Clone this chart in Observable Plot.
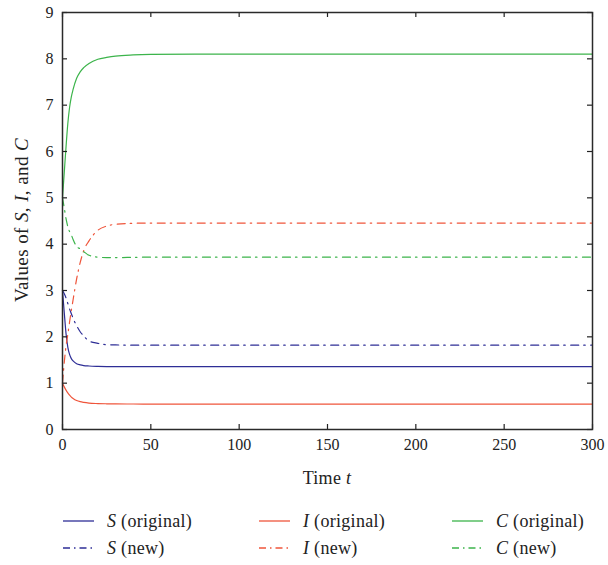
<!DOCTYPE html>
<html>
<head>
<meta charset="utf-8">
<style>
  body { margin: 0; background: #fff; font-family: "Liberation Serif"; }
  #wrap { position: relative; width: 608px; height: 565px; font-family: "Liberation Serif"; color: #222; }
  #chart { position: absolute; left: 0; top: 0; }
  .lab { position: absolute; font-family: "Liberation Serif"; color: #222; white-space: nowrap; text-align: center; line-height: 20px; }
  #ylab { left: -128px; top: 210px; width: 300px; font-size: 19px; letter-spacing: 0.4px; transform: rotate(-90deg); }
  #xlab { left: 227px; top: 468px; width: 200px; font-size: 18px; letter-spacing: 0.3px; }
</style>
</head>
<body>
<div id="wrap">
  <div id="chart"></div>
  <div id="ylab" class="lab">Values of <i>S</i>, <i>I</i>, and <i>C</i></div>
  <div id="xlab" class="lab">Time <i>t</i></div>
</div>
<script src="https://cdn.jsdelivr.net/npm/d3@7"></script>
<script src="https://cdn.jsdelivr.net/npm/@observablehq/plot@0.6"></script>
<script>
// Time grid (t) and series values
const time   = [0, 1, 2, 3, 4, 5, 6, 8, 10, 12, 15, 20, 25, 30, 40, 50, 75, 100, 150, 200, 250, 300];
const sOrig  = [3.0, 2.52, 2.07, 1.78, 1.62, 1.53, 1.48, 1.42, 1.395, 1.38, 1.37, 1.362, 1.358, 1.356, 1.355, 1.355, 1.355, 1.355, 1.355, 1.355, 1.355, 1.355];
const iOrig  = [1.0, 0.92, 0.85, 0.79, 0.74, 0.70, 0.67, 0.625, 0.60, 0.585, 0.57, 0.56, 0.555, 0.552, 0.55, 0.548, 0.548, 0.548, 0.548, 0.548, 0.548, 0.548];
const cOrig  = [5.0, 5.55, 6.1, 6.6, 6.95, 7.18, 7.34, 7.58, 7.72, 7.81, 7.9, 7.99, 8.03, 8.06, 8.085, 8.095, 8.1, 8.1, 8.1, 8.1, 8.1, 8.1];
const sNew   = [3.0, 2.93, 2.84, 2.72, 2.6, 2.5, 2.4, 2.24, 2.11, 2.02, 1.91, 1.86, 1.83, 1.825, 1.82, 1.82, 1.82, 1.82, 1.82, 1.82, 1.82, 1.82];
const iNew   = [1.0, 1.45, 1.8, 2.05, 2.32, 2.57, 2.8, 3.25, 3.6, 3.86, 4.07, 4.3, 4.39, 4.43, 4.45, 4.455, 4.455, 4.455, 4.455, 4.455, 4.455, 4.455];
const cNew   = [5.0, 4.78, 4.55, 4.38, 4.27, 4.2, 4.1, 3.95, 3.9, 3.84, 3.76, 3.72, 3.71, 3.71, 3.715, 3.72, 3.72, 3.72, 3.72, 3.72, 3.72, 3.72];

const xTicks = [0, 50, 100, 150, 200, 250, 300];
const yTicks = [0, 1, 2, 3, 4, 5, 6, 7, 8, 9];

const seriesNames = ["S", "I", "C"];
const seriesSuffix = [" (original)", " (new)"];
const colors = { S: "#2e2e96", I: "#ef553b", C: "#3cb44b" };
const dashDot = "8,5,1.5,5.5";

const seriesList = [
  { name: "S", kind: 0, values: sOrig },
  { name: "I", kind: 0, values: iOrig },
  { name: "C", kind: 0, values: cOrig },
  { name: "S", kind: 1, values: sNew },
  { name: "I", kind: 1, values: iNew },
  { name: "C", kind: 1, values: cNew }
];

const W = 608, H = 500, mL = 62, mR = 16, mT = 12, mB = 71;
const innerW = W - mL - mR, innerH = H - mT - mB;
const serifFont = "Liberation Serif";

const lineMarks = seriesList.map(s =>
  Plot.line(time.map((t, i) => ({ t, v: s.values[i] })), {
    x: "t", y: "v",
    stroke: colors[s.name],
    strokeWidth: 1.2,
    strokeDasharray: s.kind === 1 ? dashDot : null,
    curve: "monotone-x"
  })
);

const plot = Plot.plot({
  width: W, height: H,
  marginLeft: mL, marginRight: mR, marginTop: mT, marginBottom: mB,
  style: { fontFamily: serifFont, fontSize: "16px" },
  x: { domain: [0, 300] },
  y: { domain: [0, 9] },
  marks: [
    ...lineMarks,
    Plot.tickX(xTicks, { x: d => d, insetTop: innerH - 5, stroke: "#222", strokeWidth: 1.2 }),
    Plot.tickX(xTicks, { x: d => d, insetBottom: innerH - 5, stroke: "#222", strokeWidth: 1.2 }),
    Plot.tickY(yTicks, { y: d => d, insetRight: innerW - 5, stroke: "#222", strokeWidth: 1.2 }),
    Plot.tickY(yTicks, { y: d => d, insetLeft: innerW - 5, stroke: "#222", strokeWidth: 1.2 }),
    Plot.frame({ stroke: "#2a2a2a", strokeWidth: 1.5 }),
    Plot.axisX({ ticks: xTicks, tickSize: 0, tickPadding: 9, label: null, fill: "#222" }),
    Plot.axisY({ ticks: yTicks, tickSize: 0, tickPadding: 9, label: null, fill: "#222" })
  ]
});
document.getElementById("chart").appendChild(plot);

// Legend below the plot (HTML)
const legX = [63, 259, 452];
const legY = [521, 548];
const wrap = d3.select("#wrap");
seriesList.forEach(s => {
  const col = seriesNames.indexOf(s.name);
  const x0 = legX[col], y0 = legY[s.kind];
  wrap.append("svg")
    .attr("width", 32).attr("height", 4)
    .style("position", "absolute").style("left", x0 + "px").style("top", (y0 - 2) + "px")
    .append("line")
    .attr("x1", 0).attr("x2", 31).attr("y1", 2).attr("y2", 2)
    .attr("stroke", colors[s.name]).attr("stroke-width", 1.3)
    .attr("stroke-dasharray", s.kind === 1 ? "7,4,1.5,4" : null);
  const tx = wrap.append("div")
    .attr("class", "lab")
    .style("left", (x0 + 44) + "px").style("top", (y0 - 10) + "px")
    .style("font-size", "18px").style("letter-spacing", "0.3px").style("text-align", "left");
  tx.append("i").text(s.name);
  tx.append("span").text(seriesSuffix[s.kind]);
});
</script>
</body>
</html>
